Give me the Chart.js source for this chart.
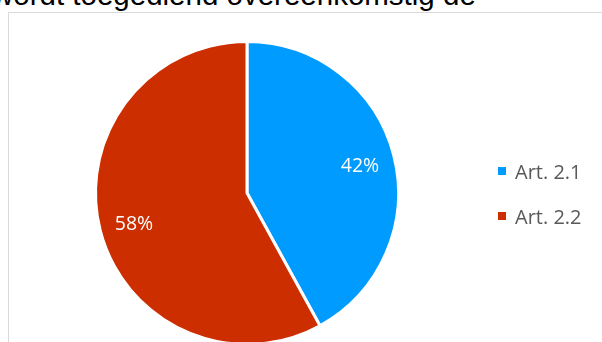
<!DOCTYPE html>
<html>
<head>
<meta charset="utf-8">
<script src="https://cdn.jsdelivr.net/npm/chart.js@4/dist/chart.umd.min.js"></script>
<style>
    html, body { margin: 0; padding: 0; width: 602px; height: 342px; overflow: hidden; background: #fff; }
    #title { position: absolute; left: -8px; top: -20px; font-family: "Liberation Sans", Arial, sans-serif; font-size: 29.5px; line-height: 1; color: #000; white-space: nowrap; }
    #frame { position: absolute; left: 8px; top: 12px; width: 700px; height: 400px; border: 1px solid #d9d9d9; }
    #wrap { position: absolute; left: 0; top: 0; }
    #legend { position: absolute; left: 498px; top: 156px; font-family: "Open Sans", sans-serif; font-size: 20px; color: #595959; }
    .item { display: flex; align-items: center; height: 30px; margin-bottom: 15px; }
    .box { width: 8px; height: 8px; margin-right: 9px; }
</style>
</head>
<body>
<div id="title">wordt toegediend overeenkomstig de</div>
<div id="frame"></div>
<div id="wrap"><canvas id="pieChart" width="602" height="400"></canvas></div>
<div id="legend"></div>
<script>
const labels = ["Art. 2.1", "Art. 2.2"];
const values = [42, 58];
const colors = ["#009bff", "#cc2e00"];

// percentage labels inside the slices
const sliceLabels = {
    id: "sliceLabels",
    afterDatasetsDraw(chart) {
        const ctx = chart.ctx;
        const total = values.reduce((a, b) => a + b, 0);
        chart.getDatasetMeta(0).data.forEach((arc, i) => {
            const mid = (arc.startAngle + arc.endAngle) / 2;
            const r = arc.outerRadius * 0.77;
            ctx.save();
            ctx.fillStyle = "#fff";
            ctx.font = "19.5px 'Open Sans', sans-serif";
            ctx.textAlign = "center";
            ctx.textBaseline = "middle";
            ctx.fillText(Math.round(values[i] / total * 100) + "%", arc.x + Math.cos(mid) * r, arc.y + Math.sin(mid) * r + 2);
            ctx.restore();
        });
    }
};

new Chart(document.getElementById("pieChart"), {
    type: "pie",
    data: {
        labels: labels,
        datasets: [{
            data: values,
            backgroundColor: colors,
            borderColor: "#fff",
            borderWidth: 3
        }]
    },
    options: {
        responsive: false,
        animation: false,
        layout: { padding: { left: 94, right: 202, top: 40, bottom: 54 } },
        plugins: {
            legend: { display: false },
            tooltip: { enabled: false }
        }
    },
    plugins: [sliceLabels]
});

const legend = document.getElementById("legend");
labels.forEach((name, i) => {
    const div = document.createElement("div");
    div.classList.add("item");
    div.innerHTML = `<span class="box" style="background:${colors[i]}"></span><span>${name}</span>`;
    legend.appendChild(div);
});
</script>
</body>
</html>
